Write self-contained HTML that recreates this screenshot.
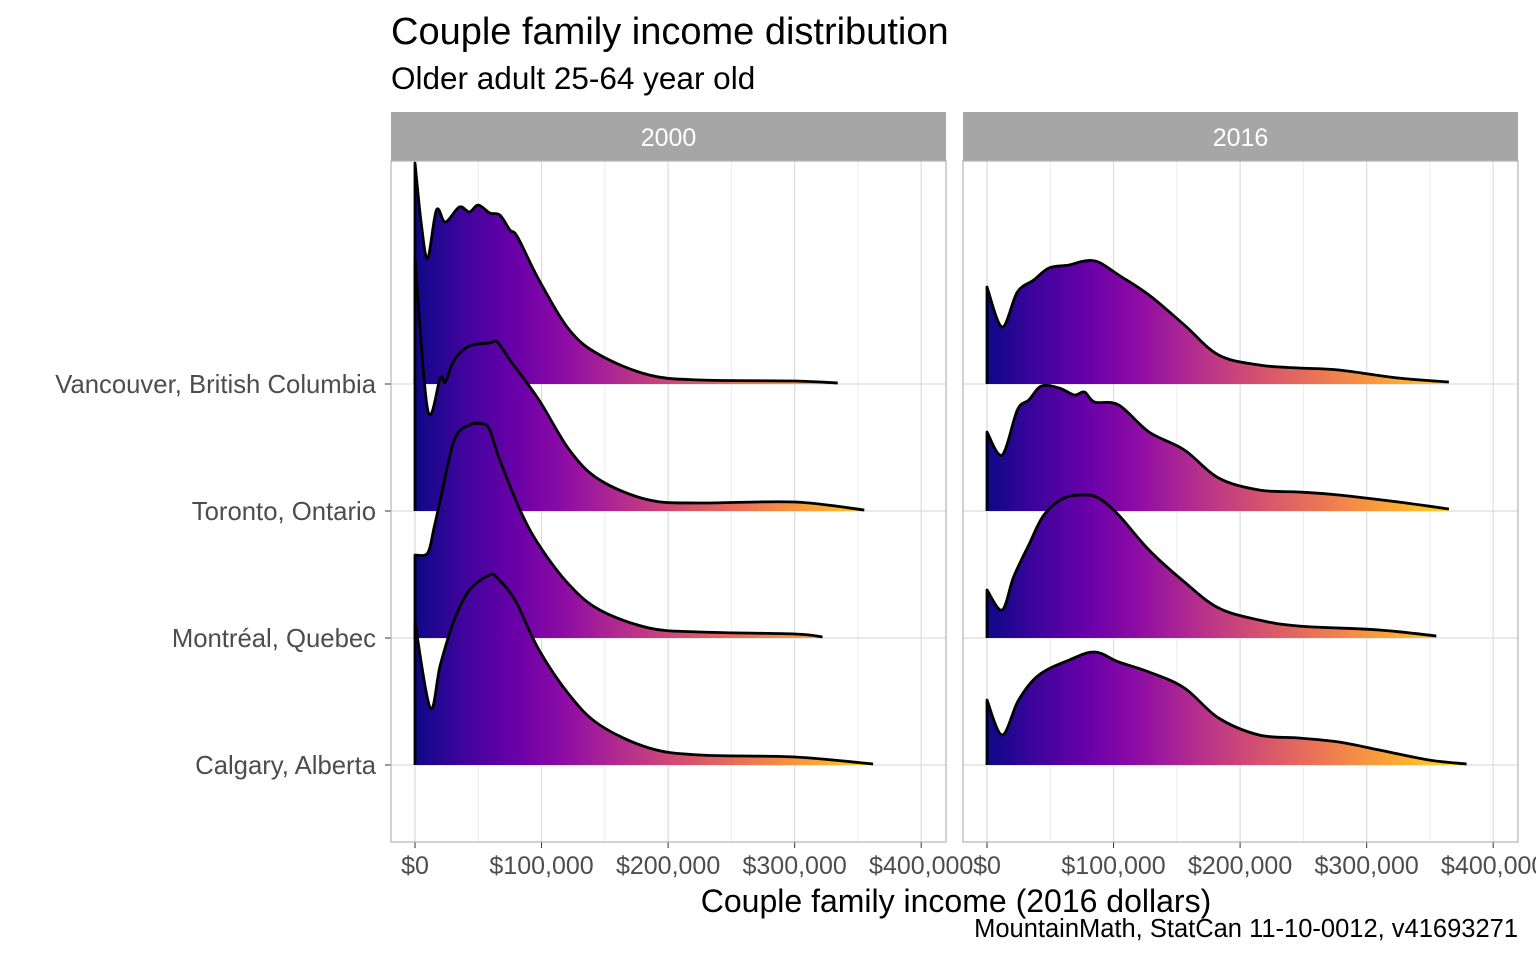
<!DOCTYPE html>
<html><head><meta charset="utf-8">
<style>
body{margin:0;background:#fff;}
svg text{font-family:"Liberation Sans",Arial,sans-serif;}
</style></head>
<body>
<svg id="chart" width="1536" height="960" viewBox="0 0 1536 960" xmlns="http://www.w3.org/2000/svg">
<defs>
<linearGradient id="plasma0" gradientUnits="userSpaceOnUse" x1="415" y1="0" x2="921" y2="0">
<stop offset="0" stop-color="#0d0887"/><stop offset="0.1" stop-color="#41049d"/><stop offset="0.2" stop-color="#6a00a8"/><stop offset="0.3" stop-color="#8f0da4"/><stop offset="0.4" stop-color="#b12a90"/><stop offset="0.5" stop-color="#cc4778"/><stop offset="0.6" stop-color="#e16462"/><stop offset="0.7" stop-color="#f2844b"/><stop offset="0.8" stop-color="#fca636"/><stop offset="0.9" stop-color="#fcce25"/><stop offset="1" stop-color="#f0f921"/>
</linearGradient>
<linearGradient id="plasma1" gradientUnits="userSpaceOnUse" x1="988" y1="0" x2="1494" y2="0">
<stop offset="0" stop-color="#0d0887"/><stop offset="0.1" stop-color="#41049d"/><stop offset="0.2" stop-color="#6a00a8"/><stop offset="0.3" stop-color="#8f0da4"/><stop offset="0.4" stop-color="#b12a90"/><stop offset="0.5" stop-color="#cc4778"/><stop offset="0.6" stop-color="#e16462"/><stop offset="0.7" stop-color="#f2844b"/><stop offset="0.8" stop-color="#fca636"/><stop offset="0.9" stop-color="#fcce25"/><stop offset="1" stop-color="#f0f921"/>
</linearGradient>
</defs>
<text x="391" y="44" font-size="38" fill="#000">Couple family income distribution</text>
<text x="391" y="89" font-size="31.5" fill="#000">Older adult 25-64 year old</text>
<text x="956" y="912" font-size="32" fill="#000" text-anchor="middle">Couple family income (2016 dollars)</text>
<text x="1518" y="937" font-size="25.5" fill="#000" text-anchor="end">MountainMath, StatCan 11-10-0012, v41693271</text>
<g id="panels"></g>
</svg>
<script>
const cities = ["Vancouver, British Columbia","Toronto, Ontario","Montréal, Quebec","Calgary, Alberta"];
const years = ["2000","2016"];
const xTicks = [0,100,200,300,400];
const xTickLabels = ["$0","$100,000","$200,000","$300,000","$400,000"];
// income in $k, density heights (arbitrary units)
const van2000x = [0,5,10,17,24,35,43,50,59,67,75,81,98,122,146,185,225,300,334];
const van2000y = [221,160,126,174,162,177,172,179,171,169,154,147,104,54,29,9,4,3,1];
const tor2000x = [0,10,20,24,31,43,59,65,75,98,122,146,185,225,300,355];
const tor2000y = [253,101,133,129,151,165,168,169,151,111,61,31,11,8,9,1];
const mtl2000x = [0,10,15,20,31,43,54,59,67,83,98,122,146,185,225,300,322];
const mtl2000y = [83,85,110,138,198,213,214,208,178,128,93,53,28,10,6,4,1];
const cal2000x = [0,12,20,31,43,59,65,79,98,122,146,185,225,300,362];
const cal2000y = [143,57,100,145,175,190,187,165,115,70,40,17,10,8,1];
const van2016x = [0,12,24,37,49,65,77,88,104,128,156,183,215,246,278,325,365];
const van2016y = [97,57,92,104,116,119,123,122,109,89,59,29,19,16,14,6,2];
const tor2016x = [0,12,24,33,43,57,69,77,85,104,128,156,183,215,246,278,325,365];
const tor2016y = [79,56,101,111,125,123,116,119,109,106,79,61,33,21,19,16,9,2];
const mtl2016x = [0,12,21,33,45,61,77,88,104,128,156,183,215,246,310,355];
const mtl2016y = [48,28,61,93,123,140,143,140,123,88,56,30,18,12,8,2];
const cal2016x = [0,12,25,41,65,85,104,128,156,183,215,246,278,310,349,379];
const cal2016y = [65,30,65,90,105,113,103,93,77,47,30,27,23,15,5,1];

const series = [
 [[van2000x,van2000y],[tor2000x,tor2000y],[mtl2000x,mtl2000y],[cal2000x,cal2000y]],
 [[van2016x,van2016y],[tor2016x,tor2016y],[mtl2016x,mtl2016y],[cal2016x,cal2016y]]
];
const NS="http://www.w3.org/2000/svg";
const gRoot=document.getElementById('panels');
const panelLeft=[391,963], panelW=555, plotTop=161, plotBottom=842;
const baseY0=384, rowStep=127;
function xScale(p,v){return panelLeft[p]+24+v*1.2655;}
function yBase(i){return baseY0+i*rowStep;}
function yScale(i,v){return yBase(i)-v;}
function mk(tag,attrs){const e=document.createElementNS(NS,tag);for(const k in attrs)e.setAttribute(k,attrs[k]);gRoot.appendChild(e);return e;}
function smooth(pts){
 let d=`M${pts[0][0]},${pts[0][1]}`;
 for(let i=0;i<pts.length-1;i++){
  const p0=pts[Math.max(0,i-1)],p1=pts[i],p2=pts[i+1],p3=pts[Math.min(pts.length-1,i+2)];
  const c1x=p1[0]+(p2[0]-p0[0])/6,c1y=p1[1]+(p2[1]-p0[1])/6;
  const c2x=p2[0]-(p3[0]-p1[0])/6,c2y=p2[1]-(p3[1]-p1[1])/6;
  d+=` C${c1x.toFixed(1)},${c1y.toFixed(1)} ${c2x.toFixed(1)},${c2y.toFixed(1)} ${p2[0].toFixed(1)},${p2[1].toFixed(1)}`;
 }
 return d;
}
for(let p=0;p<2;p++){
 const L=panelLeft[p];
 const strip=mk('rect',{x:L,y:112,width:panelW,height:49,fill:'#a6a6a6'});
 
 
 const st=mk('text',{x:L+panelW/2,y:146,'font-size':25,fill:'#fff','text-anchor':'middle'});
 st.textContent=years[p];
 
 
 for(let t=50;t<=450;t+=100){
  const x=xScale(p,t); if(x>L+panelW)continue;
  const ml=mk('line',{x1:x,x2:x,y1:plotTop,y2:plotBottom,stroke:'#ececec','stroke-width':1});
  
  
 }
 xTicks.forEach((t,k)=>{
  const x=xScale(p,t);
  const gl=mk('line',{x1:x,x2:x,y1:plotTop,y2:plotBottom,stroke:'#dcdcdc','stroke-width':1.2});
  
  
  const tk=mk('line',{x1:x,x2:x,y1:plotBottom,y2:plotBottom+6,stroke:'#333','stroke-width':1});
  
  
  const tl=mk('text',{x:x,y:874,'font-size':25,fill:'#4d4d4d','text-anchor':'middle'});
  tl.textContent=xTickLabels[k];
  
  
 });
 cities.forEach((c,i)=>{
  const y=yBase(i);
  const hl=mk('line',{x1:L,x2:L+panelW,y1:y,y2:y,stroke:'#dcdcdc','stroke-width':1.2});
  
  
  if(p===0){
   const yt=mk('line',{x1:L-6,x2:L,y1:y,y2:y,stroke:'#333','stroke-width':1});
   
   
   const yl=mk('text',{x:376,y:y+9,'font-size':25.7,fill:'#4d4d4d','text-anchor':'end'});
   yl.textContent=c;
   
   
  }
 });
 cities.forEach((c,i)=>{
  const xs=series[p][i][0], ys=series[p][i][1];
  const pts=xs.map((v,k)=>[xScale(p,v),yScale(i,ys[k])]);
  const b=yBase(i);
  const line=smooth(pts);
  const fill=mk('path',{d:`M${pts[0][0]},${b} L${pts[0][0]},${pts[0][1]} `+line.slice(1)+` L${pts[pts.length-1][0]},${b} Z`,fill:`url(#plasma${p})`});
  
  
  const ln=mk('path',{d:`M${pts[0][0]},${b} L`+line.slice(1),fill:'none',stroke:'#000','stroke-width':2.8,'stroke-linejoin':'round'});
  
  
 });
 const border=mk('rect',{x:L,y:plotTop,width:panelW,height:plotBottom-plotTop,fill:'none',stroke:'#b3b3b3','stroke-width':1.2});
 
 
}
</script>
</body></html>
